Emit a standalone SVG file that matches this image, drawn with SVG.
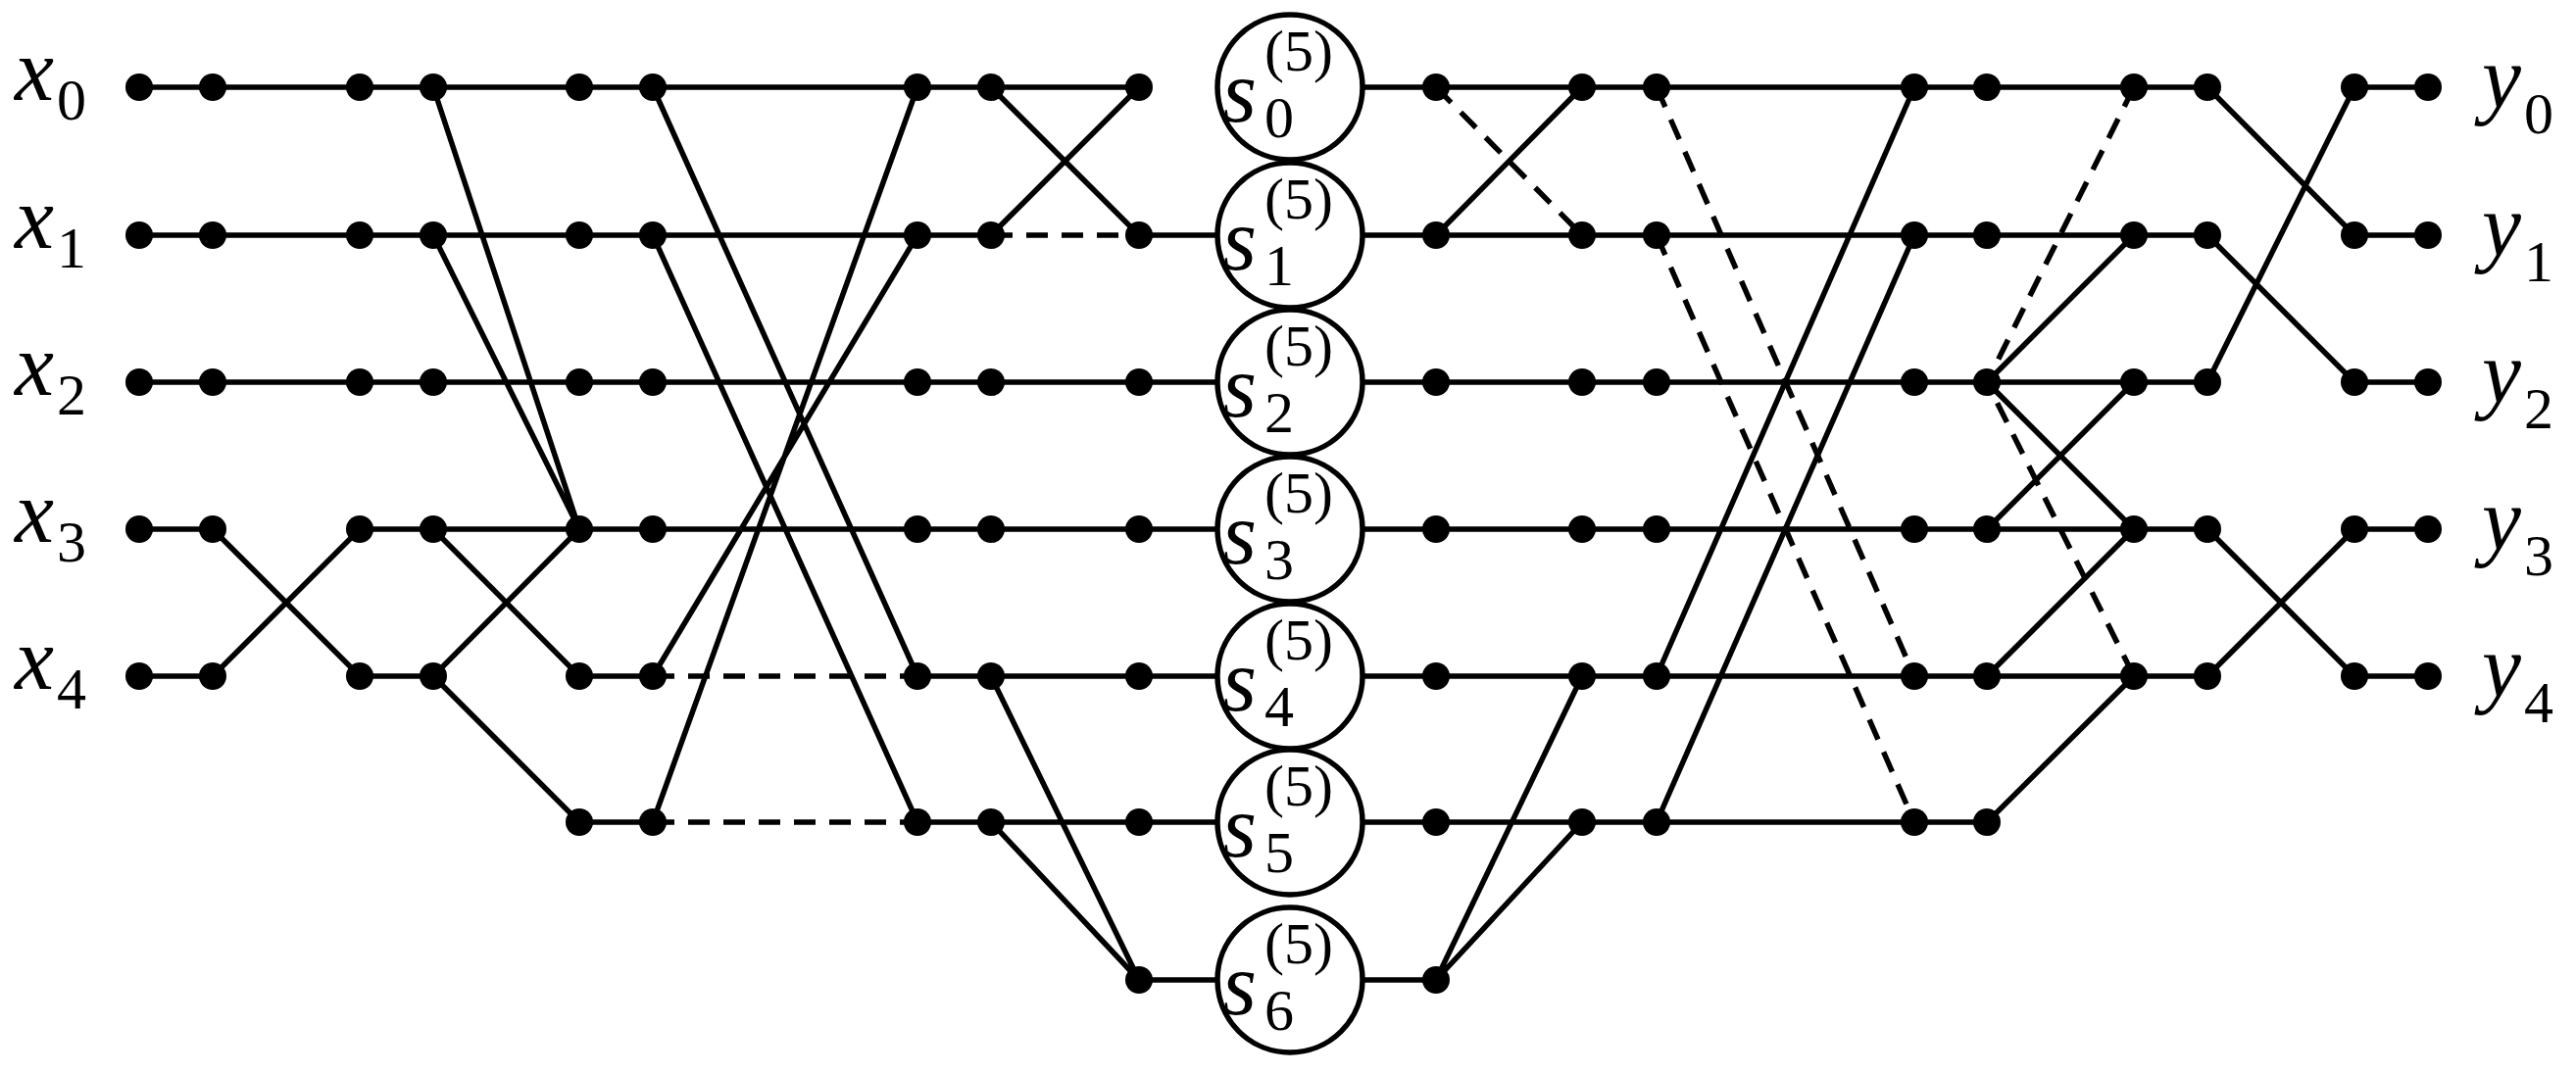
<svg xmlns="http://www.w3.org/2000/svg" width="2628" height="1096" viewBox="0 0 2628 1096">
<style>
.l{stroke:#000;stroke-width:5.5;fill:none}
.d{stroke:#000;stroke-width:5.5;fill:none;stroke-dasharray:22 14}
.p{fill:#000}
.c{fill:#fff;stroke:#000;stroke-width:5.5}
.v{font-family:"Liberation Serif",serif;font-style:italic;font-size:90px}
.n{font-family:"Liberation Serif",serif;font-size:60px}
</style>
<rect width="2628" height="1096" fill="#fff"/>
<g id="connectors">
<!-- left -->
<path class="l" d="M142 89H1162M142 240H1011M142 390H1316M142 540H217L367 690M142 690H217L367 540H1316M367 690H442L591 540M442 540L591 690H666M442 690L591 839H666M442 89L591 540M442 240L591 540M666 89L936 690M666 240L936 839M666 690L936 240M666 839L936 89M936 690H1316M936 839H1316M1011 89L1162 240M1011 240L1162 89M1162 240H1316M1011 690L1162 1000M1011 839L1162 1000M1162 1000H1316"/>
<path class="d" d="M666 690H936M666 839H936M1011 240H1162"/>
<!-- right -->
<path class="l" d="M1316 89H2252M1316 240H2252M1316 390H2252M1316 540H2252M1316 690H2252M1316 839H2027M1316 1000H1465L1614 690M1465 1000L1614 839M1465 240L1614 89M1690 690L1953 89M1690 839L1953 240M2027 390L2177 240M2027 390L2177 540M2027 540L2177 390M2027 690L2177 540M2027 839L2177 690M2177 690H2252M2252 89L2402 240M2252 240L2402 390M2252 390L2402 89M2252 540L2402 690M2252 690L2402 540M2402 89H2477M2402 240H2477M2402 390H2477M2402 540H2477M2402 690H2477"/>
<path class="d" d="M1465 89L1614 240M1690 89L1953 690M1690 240L1953 839M2177 89L2027 390L2177 690"/>
</g>
<g id="circles">
<circle class="c" cx="1316" cy="89" r="74"/>
<circle class="c" cx="1316" cy="240" r="74"/>
<circle class="c" cx="1316" cy="390" r="74"/>
<circle class="c" cx="1316" cy="540" r="74"/>
<circle class="c" cx="1316" cy="690" r="74"/>
<circle class="c" cx="1316" cy="839" r="74"/>
<circle class="c" cx="1316" cy="1000" r="74"/>
</g>
<g id="circle-labels">
<text class="v" x="1247" y="124">s</text><text class="n" x="1290" y="72">(5)</text><text class="n" x="1290" y="140">0</text>
<text class="v" x="1247" y="275">s</text><text class="n" x="1290" y="223">(5)</text><text class="n" x="1290" y="291">1</text>
<text class="v" x="1247" y="425">s</text><text class="n" x="1290" y="373">(5)</text><text class="n" x="1290" y="441">2</text>
<text class="v" x="1247" y="575">s</text><text class="n" x="1290" y="523">(5)</text><text class="n" x="1290" y="591">3</text>
<text class="v" x="1247" y="725">s</text><text class="n" x="1290" y="673">(5)</text><text class="n" x="1290" y="741">4</text>
<text class="v" x="1247" y="874">s</text><text class="n" x="1290" y="822">(5)</text><text class="n" x="1290" y="890">5</text>
<text class="v" x="1247" y="1035">s</text><text class="n" x="1290" y="983">(5)</text><text class="n" x="1290" y="1051">6</text>
</g>
<g id="dots" class="p">
<!-- left -->
<circle cx="142" cy="89" r="14"/><circle cx="217" cy="89" r="14"/><circle cx="367" cy="89" r="14"/><circle cx="442" cy="89" r="14"/><circle cx="591" cy="89" r="14"/><circle cx="666" cy="89" r="14"/><circle cx="936" cy="89" r="14"/><circle cx="1011" cy="89" r="14"/><circle cx="1162" cy="89" r="14"/>
<circle cx="142" cy="240" r="14"/><circle cx="217" cy="240" r="14"/><circle cx="367" cy="240" r="14"/><circle cx="442" cy="240" r="14"/><circle cx="591" cy="240" r="14"/><circle cx="666" cy="240" r="14"/><circle cx="936" cy="240" r="14"/><circle cx="1011" cy="240" r="14"/><circle cx="1162" cy="240" r="14"/>
<circle cx="142" cy="390" r="14"/><circle cx="217" cy="390" r="14"/><circle cx="367" cy="390" r="14"/><circle cx="442" cy="390" r="14"/><circle cx="591" cy="390" r="14"/><circle cx="666" cy="390" r="14"/><circle cx="936" cy="390" r="14"/><circle cx="1011" cy="390" r="14"/><circle cx="1162" cy="390" r="14"/>
<circle cx="142" cy="540" r="14"/><circle cx="217" cy="540" r="14"/><circle cx="367" cy="540" r="14"/><circle cx="442" cy="540" r="14"/><circle cx="591" cy="540" r="14"/><circle cx="666" cy="540" r="14"/><circle cx="936" cy="540" r="14"/><circle cx="1011" cy="540" r="14"/><circle cx="1162" cy="540" r="14"/>
<circle cx="142" cy="690" r="14"/><circle cx="217" cy="690" r="14"/><circle cx="367" cy="690" r="14"/><circle cx="442" cy="690" r="14"/><circle cx="591" cy="690" r="14"/><circle cx="666" cy="690" r="14"/><circle cx="936" cy="690" r="14"/><circle cx="1011" cy="690" r="14"/><circle cx="1162" cy="690" r="14"/>
<circle cx="591" cy="839" r="14"/><circle cx="666" cy="839" r="14"/><circle cx="936" cy="839" r="14"/><circle cx="1011" cy="839" r="14"/><circle cx="1162" cy="839" r="14"/>
<circle cx="1162" cy="1000" r="14"/>
<!-- right -->
<circle cx="1465" cy="89" r="14"/><circle cx="1614" cy="89" r="14"/><circle cx="1690" cy="89" r="14"/><circle cx="1953" cy="89" r="14"/><circle cx="2027" cy="89" r="14"/><circle cx="2177" cy="89" r="14"/><circle cx="2252" cy="89" r="14"/><circle cx="2402" cy="89" r="14"/><circle cx="2477" cy="89" r="14"/>
<circle cx="1465" cy="240" r="14"/><circle cx="1614" cy="240" r="14"/><circle cx="1690" cy="240" r="14"/><circle cx="1953" cy="240" r="14"/><circle cx="2027" cy="240" r="14"/><circle cx="2177" cy="240" r="14"/><circle cx="2252" cy="240" r="14"/><circle cx="2402" cy="240" r="14"/><circle cx="2477" cy="240" r="14"/>
<circle cx="1465" cy="390" r="14"/><circle cx="1614" cy="390" r="14"/><circle cx="1690" cy="390" r="14"/><circle cx="1953" cy="390" r="14"/><circle cx="2027" cy="390" r="14"/><circle cx="2177" cy="390" r="14"/><circle cx="2252" cy="390" r="14"/><circle cx="2402" cy="390" r="14"/><circle cx="2477" cy="390" r="14"/>
<circle cx="1465" cy="540" r="14"/><circle cx="1614" cy="540" r="14"/><circle cx="1690" cy="540" r="14"/><circle cx="1953" cy="540" r="14"/><circle cx="2027" cy="540" r="14"/><circle cx="2177" cy="540" r="14"/><circle cx="2252" cy="540" r="14"/><circle cx="2402" cy="540" r="14"/><circle cx="2477" cy="540" r="14"/>
<circle cx="1465" cy="690" r="14"/><circle cx="1614" cy="690" r="14"/><circle cx="1690" cy="690" r="14"/><circle cx="1953" cy="690" r="14"/><circle cx="2027" cy="690" r="14"/><circle cx="2177" cy="690" r="14"/><circle cx="2252" cy="690" r="14"/><circle cx="2402" cy="690" r="14"/><circle cx="2477" cy="690" r="14"/>
<circle cx="1465" cy="839" r="14"/><circle cx="1614" cy="839" r="14"/><circle cx="1690" cy="839" r="14"/><circle cx="1953" cy="839" r="14"/><circle cx="2027" cy="839" r="14"/>
<circle cx="1465" cy="1000" r="14"/>
</g>
<g id="inputs">
<text class="v" x="15" y="102">x</text><text class="n" x="58" y="122">0</text>
<text class="v" x="15" y="253">x</text><text class="n" x="58" y="273">1</text>
<text class="v" x="15" y="403">x</text><text class="n" x="58" y="423">2</text>
<text class="v" x="15" y="553">x</text><text class="n" x="58" y="573">3</text>
<text class="v" x="15" y="703">x</text><text class="n" x="58" y="723">4</text>
</g>
<g id="outputs">
<text class="v" x="2532" y="110">y</text><text class="n" x="2575" y="136">0</text>
<text class="v" x="2532" y="261">y</text><text class="n" x="2575" y="287">1</text>
<text class="v" x="2532" y="411">y</text><text class="n" x="2575" y="437">2</text>
<text class="v" x="2532" y="561">y</text><text class="n" x="2575" y="587">3</text>
<text class="v" x="2532" y="711">y</text><text class="n" x="2575" y="737">4</text>
</g>
</svg>
